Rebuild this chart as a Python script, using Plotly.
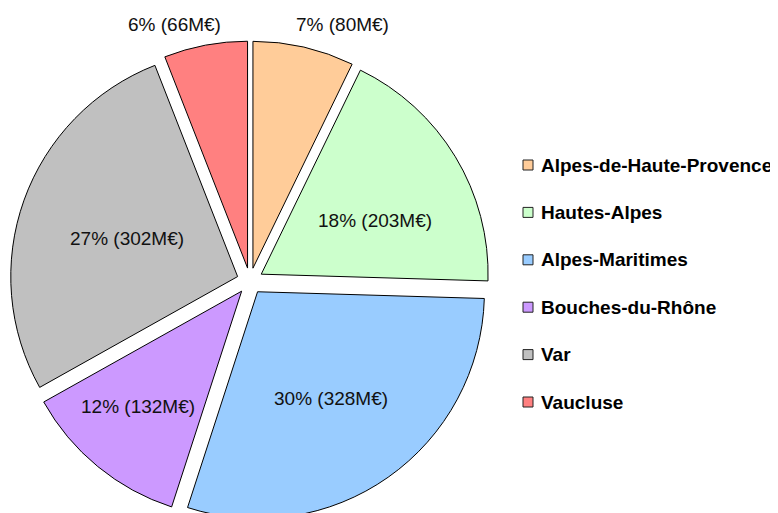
import plotly.graph_objects as go

labels = ["Alpes-de-Haute-Provence", "Hautes-Alpes", "Alpes-Maritimes",
          "Bouches-du-Rhône", "Var", "Vaucluse"]
values = [80, 203, 328, 132, 302, 66]
colors = ["#FFCC99", "#CCFFCC", "#99CCFF", "#CC99FF", "#C0C0C0", "#FF8080"]

# label anchor positions on the page (pixels), layout only
label_px = [(342, 25), (375, 220), (331, 398), (138, 406), (127, 238), (174, 25)]

W, H = 778, 513
MT, MB = 33, 0
PH = H - MT - MB
OFF = 8  # page body margin

def px_x(x):
    return (x - OFF) / W

def px_y(y):
    return 1 - (y - OFF - MT) / PH

total = sum(values)
label_text = [f"{round(v / total * 100)}% ({v}M€)" for v in values]

fig = go.Figure()
fig.add_trace(go.Pie(
    labels=labels,
    values=values,
    sort=False,
    direction="clockwise",
    rotation=0,
    pull=[0.058] * len(values),
    marker=dict(colors=colors, line=dict(color="#000000", width=1)),
    textinfo="none",
    domain=dict(x=[0.0, 484 / W], y=[0.0, 1.0]),
    automargin=False,
    showlegend=False,
    hoverinfo="label+value+percent",
))

# slice labels
for txt, (sx, sy) in zip(label_text, label_px):
    fig.add_annotation(xref="paper", yref="paper", x=px_x(sx), y=px_y(sy),
                       xanchor="center", yanchor="middle", showarrow=False,
                       text=txt,
                       font=dict(family="Liberation Sans, Arial, sans-serif", size=19, color="#111111"))

# legend drawn as shapes + text
y0, step = 165, 47.4
for i, (lab, col) in enumerate(zip(labels, colors)):
    yc = y0 + step * i
    fig.add_shape(type="rect", xref="paper", yref="paper",
                  x0=px_x(523), x1=px_x(533), y0=px_y(yc - 5), y1=px_y(yc + 5),
                  fillcolor=col, line=dict(color="#222222", width=1))
    fig.add_annotation(xref="paper", yref="paper", x=px_x(539), y=px_y(yc),
                       xanchor="left", yanchor="middle", showarrow=False,
                       text="<b>" + lab + "</b>",
                       font=dict(family="Liberation Sans, Arial, sans-serif", size=19, color="#000000"))

fig.update_layout(
    width=W, height=H,
    margin=dict(l=0, r=0, t=MT, b=MB, autoexpand=False),
    paper_bgcolor="white",
    plot_bgcolor="white",
)
fig.write_html("out.html")
